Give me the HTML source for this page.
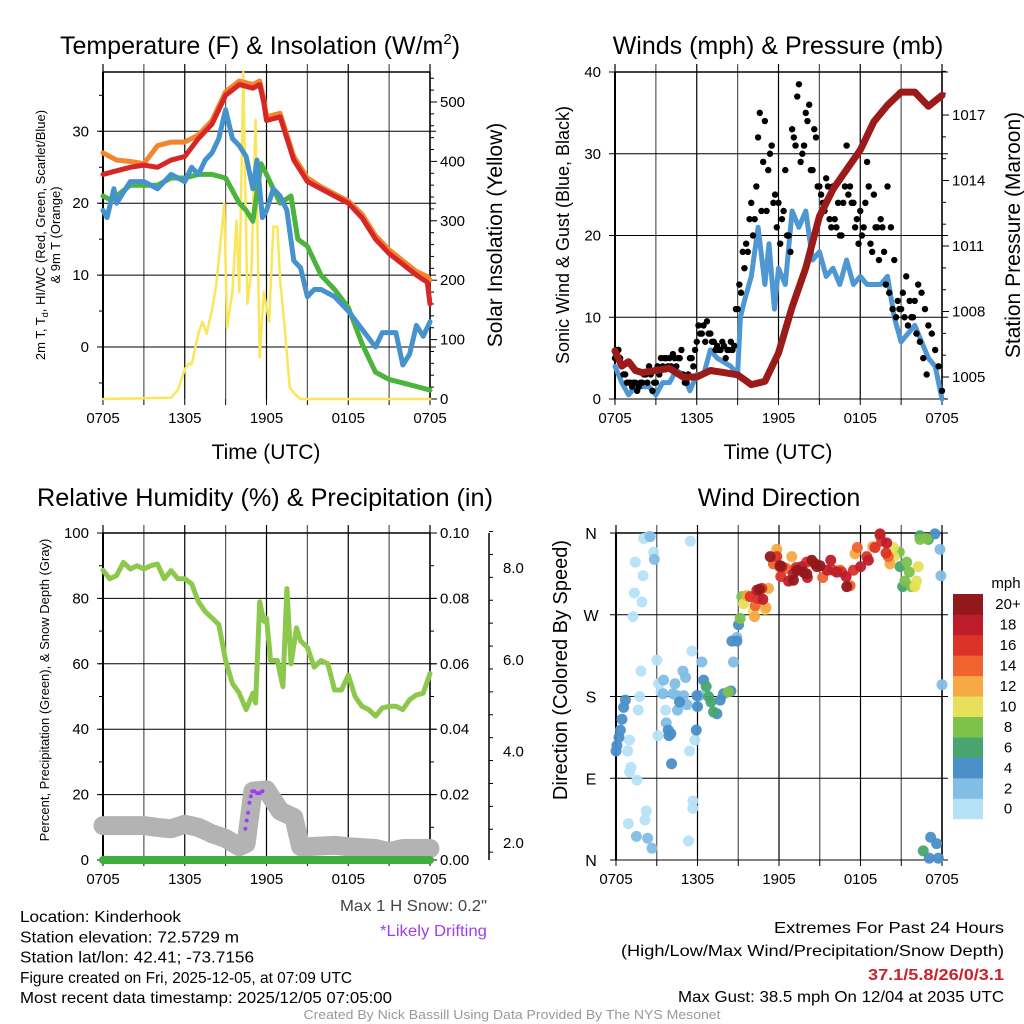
<!DOCTYPE html>
<html><head><meta charset="utf-8"><style>
body{margin:0;background:#fff}
svg{display:block;font-family:"Liberation Sans",sans-serif}
</style></head><body>
<svg id="s" width="1024" height="1024" viewBox="0 0 1024 1024"></svg>
<script>
// ---------- DATA ----------
const tHours=[0,1,2,3,4,5,6,7,8,9,10,11,11.5,11.8,12,13,14,15,16,17,18,19,20,21,22,23,23.8,24];
const temp2m=[24,24.5,25,25.3,25,26,26.5,29,31,35,36.5,36,36.5,34,31.5,32,26,23,22,21,20,18,15,13,11.5,10,9,6];
const temp9m=[27,26,25.8,25.5,28,28.5,28.5,29.5,31.5,35.5,37,36.5,37,34.5,32,32.5,26.5,23.5,22.3,21.3,20.3,18.5,15.5,13.5,12,10.5,9.8,9.3];
const tdHours=[0,0.5,1,2,3,4,5,6,7,8,9,10,10.5,11,11.6,12,12.5,13,13.8,14.3,15,16,17,18,19,20,21,22,23,24];
const dewpt=[21,20.5,21,22.5,22.5,22.5,23.5,23.5,24,24,23.5,20,19,17.5,25.5,24,22,20,21,15,14,10,8,5.5,0.5,-3.5,-4.5,-5,-5.5,-6];
const wcHours=[0,0.3,0.8,1,2,3,4,5,6,6.5,7,7.5,8,8.5,9,9.5,10,10.5,11,11.3,11.7,12,12.5,13,13.5,14,14.5,15,15.5,16,17,18,19,20,20.5,21,21.5,22,22.5,23,23.5,24];
const windChill=[19,18,22,20,23,23,22,24,23,25,24,26,27,29,33,29,28,26.5,22,26,18,19,22,21,19,12,11,7,8,8,7,5,2.5,0,2,2,2,-2.5,-1,3,1.5,3.5];
const solHours=[0,5,5.5,6,6.3,6.5,7,7.3,7.6,8,8.3,8.7,8.9,9.1,9.5,9.8,10,10.3,10.6,10.9,11.2,11.5,11.8,12.2,12.5,12.8,13,13.3,13.7,14,14.5,24];
const solar=[0,2,15,50,60,58,110,130,110,150,190,280,330,120,180,300,180,550,160,220,470,70,180,130,290,290,200,130,20,10,0,0];

const windHours=[0,0.5,1,1.5,2,2.5,3,3.5,4,4.5,5,5.5,6,6.5,7,7.5,8,8.5,9,9.2,9.5,10,10.5,11,11.3,11.7,12,12.5,13,13.5,14,14.5,15,15.5,16,16.5,17,17.5,18,18.5,19,19.5,20,20.5,21,21.5,22,22.5,23,23.5,24];
const sonicWind=[4,2,0.5,1.5,1.5,1.5,0.5,2,2,3.5,3,1,3,3,6,5,4.5,4,3,10,12,15,21,14,19,11,16,14,23,21,23,17,18,15,16,14,17,14,15,14,14,14,15,10,7,8,9,7,5,4,0];
const gust=[5,6,4,3, 2,1.5,2,1.5, 2,3,4,1, 2,3,4,5, 5,5.5,4,5, 3,2,5,4, 7,8,9,9.5, 8,7,6.5,6, 6.5,6,7,6.5, 11,13,16,18, 24,22,32,23, 34,28,31,25, 24,22,28,20, 33,31,38.5,30, 35,36,28,32, 26,24,27,22, 26,21,20,24, 31,26,24,22, 23,21,29,19, 25,21,22,18, 26,21,17,12, 11,10,9,10, 12,14,13,11, 9,8,6,4, 1];
const gust2=[6,5,3,2, 2,2,1,2, 3,2,3,2, 4,5,5,4, 4,5,5,6, 2,3,5,6, 9,8,7,8, 7,6,6,7, 5,6,6,11, 14,18,19,22, 20,26,35,29, 23,30,24,21, 19,23,20,18, 32,37,29,31, 34,28,33,26, 25,23,26,21, 22,24,20,26, 25,24,21,19, 20,24,26,18, 21,17,21,14, 13,11,10,11, 13,15,12,10, 8,7,5,3];
const presHours=[0,0.5,1,1.5,2,3,4,5,6,7,8,9,10,11,12,13,14,15,16,17,18,19,20,21,22,23,24];
const pressure=[1006.2,1005.5,1005.7,1005.3,1005.2,1005.3,1005.4,1005.0,1005.0,1005.3,1005.2,1005.1,1004.65,1004.8,1006.1,1008.2,1010.0,1012.35,1013.6,1014.5,1015.4,1016.7,1017.45,1018.05,1018.05,1017.4,1017.9];

const rhHours=[0,0.5,1,1.5,2,2.5,3,3.5,4,4.5,5,5.5,6,6.5,7,7.5,8,8.5,9,9.5,10,10.5,11,11.2,11.5,11.8,12,12.3,12.8,13.2,13.5,13.8,14.2,14.5,15,15.5,16,16.5,17,17.5,18,18.5,19,19.5,20,20.5,21,21.5,22,22.5,23,23.5,24];
const rh=[88.6,86,87,91,89,90,89,90,90.5,86,88.5,86,86,84.5,79,76,74,72,61,54,51,46,51,48,79,73,74,61,61,53,83,60,71,67,65,59,61,60,52,52,56.5,50,47,46,44,46.5,47,47,46,49,50.5,51,57];
const snowHours=[0,3,4,5,6,7,8,9,10,10.5,11,12,13,14,14.5,15,17,18,20,21,22,24];
const snowDepth=[2.38,2.38,2.34,2.31,2.41,2.34,2.2,2.1,1.92,1.99,3.13,3.16,2.7,2.56,1.92,1.92,1.95,1.92,1.88,1.81,1.88,1.88];
const driftHours=[10.45,10.55,10.65,10.75,10.85,10.95,11.1,11.3,11.5,11.7];
const driftDepth=[2.31,2.49,2.66,2.88,3.02,3.13,3.13,3.09,3.09,3.13];
const precipHours=[0,24];
const precip=[0,0];

const dirHours=[2.03,2.4,2.77,1.42,1.99,1.35,1.91,1.25,3.01,1.84,1.74,1.64,3.09,1.0,0.86,1.1,1.0,1.54,2.23,2.13,0.91,5.34,5.66,5.66,5.42,5.81,5.59,5.47,3.65,3.31,3.14,
 2.52,2.82,3.5,4.34,4.93,5.12,3.46,4.19,4.49,4.98,5.22,4.53,3.7,6.32,8.9,8.65,1.5,2.33,2.65,23.85,23.92,24.0,6.15,
 0,0.07,0.22,0.32,0.44,0.56,0.69,4.04,3.9,3.85,4.09,4.68,5.96,5.91,6.0,6.45,7.43,7.67,7.92,8.46,8.53,8.9,9.02,23.48,23.16,23.6,23.06,23.73,
 6.64,6.81,6.99,7.18,22.38,22.99,20.91,21.1,22.62,
 8.28,9.14,9.26,21.4,21.59,21.27,22.38,22.87,20.86,21.76,
 9.39,10.12,20.42,20.47,22.01,22.25,22.13,10.98,
 9.63,10.2,11.05,11.23,11.84,12.94,17.6,18.9,20.17,10.61,
 10.25,11.59,12.08,12.52,15.22,16.5,17.23,17.77,19.44,20.05,
 9.88,10.74,10.42,11.84,12.13,13.26,14.04,16.0,16.62,17.48,18.46,19.56,19.07,19.88,
 10.37,10.81,12.21,12.7,13.06,13.68,14.09,14.78,15.56,15.81,16.25,16.94,18.01,18.58,19.44,19.93,
 10.56,11.35,12.08,13.31,13.8,14.41,14.66,16.99,13.06,14.04,15.02];
const dirDeg=[354,356,339,328,313,294,284,268,220,208,180,165,137,132,120,102,97,88,54,44,40,21,65,57,120,132,230,351,165,185,194,
 356,331,198,194,208,201,183,183,181,181,171,165,151,218,245,218,26,24,13,342,313,193,181,
 120,126,135,143,155,168,176,139,137,143,106,174,181,143,169,198,161,176,183,186,241,241,259,359,25,18,2,2,
 191,180,174,163,357,353,323,301,10,
 185,266,290,328,317,307,353,354,339,301,
 282,274,344,334,301,323,307,276,
 291,268,278,299,342,334,337,345,326,291,
 280,326,322,321,311,319,302,344,357,334,
 290,299,288,334,312,322,328,319,317,319,334,351,344,338,
 297,287,323,307,315,323,311,323,319,330,317,312,323,330,359,349,
 298,334,324,319,317,330,326,301,308,315,324];
const dirSpeed=[1,1,1,1,1,1,1,1,1,1,1,1,1,1,1,1,1,1,1,1,1,1,1,1,1,1,1,1,1,1,1,
 3,3,3,3,3,3,3,3,3,3,3,3,3,3,3,3,3,3,3,3,3,3,3,
 5,5,5,5,5,5,5,5,5,5,5,5,5,5,5,5,5,5,5,5,5,5,5,5,5,5,5,5,
 7,7,7,7,7,7,7,7,7,
 9,9,9,9,9,9,9,9,9,9,
 11,11,11,11,11,11,11,11,
 13,13,13,13,13,13,13,13,13,13,
 15,15,15,15,15,15,15,15,15,15,
 17,17,17,17,17,17,17,17,17,17,17,17,17,17,
 19,19,19,19,19,19,19,19,19,19,19,19,19,19,19,19,
 22,22,22,22,22,22,22,22,22,22,22];
const speedColors=["#b6e1f7","#82bde6","#4a8fc8","#48a56f","#7cc24b","#e7e05b","#f6a944","#ef632e","#dc3328","#bd1d2a","#92181c"];
const speedLabels=["0","2","4","6","8","10","12","14","16","18","20+"];
const timeLabels=["0705","1305","1905","0105","0705"];

// ---------- DRAW ----------
const S=document.getElementById('s');
const NS='http://www.w3.org/2000/svg';
function el(tag,attrs,parent,txt){const e=document.createElementNS(NS,tag);for(const k in attrs)e.setAttribute(k,attrs[k]);if(txt!==undefined)e.textContent=txt;(parent||S).appendChild(e);return e;}
function group(name){const g=el('g',{},S);return g;}
function line(g,x1,y1,x2,y2,st,w){return el('line',{x1,y1,x2,y2,stroke:st,'stroke-width':w},g);}
function text(g,x,y,t,size,anchor,fill,extra){const e=el('text',Object.assign({x,y,'font-size':size,'text-anchor':anchor||'middle',fill:fill||'#000'},extra||{}),g,t);return e;}
function fit(len){return {textLength:len,lengthAdjust:'spacingAndGlyphs'};}
function path(g,xs,ys,fx,fy,color,w,name){let d='';for(let i=0;i<xs.length;i++)d+=(i?'L':'M')+fx(xs[i]).toFixed(1)+' '+fy(ys[i]).toFixed(1);const p=el('path',{d,fill:'none',stroke:color,'stroke-width':w,'stroke-linejoin':'round','stroke-linecap':'round'},g);return p;}

function frame(g,x0,x1,yT,yB,xs,hTicks){
  for(let h=0;h<=24;h+=3){const x=xs(h);line(g,x,yT-8,x,yB,(h%6==0)?'#000':'#555',1.2);line(g,x,yB,x,yB+6,'#000',1);}
  for(const v of hTicks){line(g,x0-6,v,x1+6,v,'#000',1);}
  line(g,x0,yT,x0,yB,'#000',2);line(g,x1,yT,x1,yB,'#000',1.5);line(g,x0,yT,x1,yT,'#000',1.5);
  timeLabels.forEach((t,i)=>text(g,xs(i*6),yB+24,t,15));
}

// ===== Panel 1: Temperature =====
(function(){
  const g=group('temperature-panel');
  const x0=103,x1=430,yT=72,yB=399;
  const xs=h=>x0+h*(x1-x0)/24, yl=v=>347-v*7.19, yr=s=>399-s*0.594;
  frame(g,x0,x1,yT,yB,xs,[0,10,20,30].map(yl));
  for(let v=-5;v<=35;v+=5)line(g,x0-4,yl(v),x0,yl(v),'#000',1);
  [0,10,20,30].forEach(v=>text(g,x0-14,yl(v)+5,String(v),15,'end'));
  for(let s=0;s<=540;s+=20)line(g,x1,yr(s),x1+(s%100==0?7:4),yr(s),'#000',1);
  [0,100,200,300,400,500].forEach(s=>text(g,x1+10,yr(s)+5,String(s),15,'start'));
  path(g,solHours,solar,xs,yr,'#fbe55a',2.5,'solar-insolation-line');
  path(g,tdHours,dewpt,xs,yl,'#4cb43c',5,'dewpoint-line');
  path(g,tHours,temp9m,xs,yl,'#f4852c',5,'temp-9m-line');
  path(g,tHours,temp2m,xs,yl,'#d62626',5,'temp-2m-line');
  path(g,wcHours,windChill,xs,yl,'#4592cd',5,'wind-chill-line');
  const t=text(g,260,54,'Temperature (F) & Insolation (W/m',25);
  el('tspan',{dy:-10,'font-size':15},t,'2');el('tspan',{dy:10},t,')');
  text(g,266,459,'Time (UTC)',21);
  text(g,0,0,'Solar Insolation (Yellow)',21,'middle','#000',{transform:'translate(502,235) rotate(-90)'});
  text(g,0,0,'',13,'middle','#000',{transform:'translate(45,235) rotate(-90)'}).innerHTML='2m T, T<tspan font-size="9" dy="3">d</tspan><tspan dy="-3">, HI/WC (Red, Green, Scarlet/Blue)</tspan>';
  text(g,0,0,'& 9m T (Orange)',13,'middle','#000',{transform:'translate(60,235) rotate(-90)'});
})();

// ===== Panel 2: Winds =====
(function(){
  const g=group('winds-panel');
  const x0=615,x1=942,yT=72,yB=399;
  const xs=h=>x0+h*(x1-x0)/24, yl=w=>399-w*8.175, yr=p=>377-(p-1005)*21.83;
  frame(g,x0,x1,yT,yB,xs,[0,10,20,30,40].map(yl));
  [0,10,20,30,40].forEach(v=>text(g,x0-14,yl(v)+5,String(v),15,'end'));
  for(let p=1004;p<=1019;p++)line(g,x1,yr(p),x1+((p-1005)%3==0?7:4),yr(p),'#000',1);
  [1005,1008,1011,1014,1017].forEach(p=>text(g,x1+10,yr(p)+5,String(p),15,'start'));
  path(g,windHours,sonicWind,xs,yl,'#4e97d2',5,'sonic-wind-line');
  gust.forEach((v,i)=>{const c=el('circle',{cx:xs(i*0.25),cy:yl(v),r:3.2,fill:'#000'},g);});
  gust2.forEach((v,i)=>{const c=el('circle',{cx:xs(i*0.25+0.125),cy:yl(v),r:3.2,fill:'#000'},g);});
  path(g,presHours,pressure,xs,yr,'#9b1b1b',7,'pressure-line');
  text(g,778,54,'Winds (mph) & Pressure (mb)',25);
  text(g,778,459,'Time (UTC)',21);
  text(g,0,0,'Sonic Wind & Gust (Blue, Black)',18,'middle','#000',{transform:'translate(569,235) rotate(-90)'});
  text(g,0,0,'Station Pressure (Maroon)',21,'middle','#000',{transform:'translate(1020,235) rotate(-90)'});
})();

// ===== Panel 3: RH =====
(function(){
  const g=group('humidity-panel');
  const x0=103,x1=430,yT=533,yB=860;
  const xs=h=>x0+h*(x1-x0)/24, yl=v=>860-v*3.27, yp=p=>860-p*3270, ysn=s=>843-(s-2)*45.8;
  frame(g,x0,x1,yT,yB,xs,[0,20,40,60,80,100].map(yl));
  for(let v=0;v<=100;v+=10)line(g,x0-4,yl(v),x0,yl(v),'#000',1);
  [0,20,40,60,80,100].forEach(v=>text(g,x0-14,yl(v)+5,String(v),15,'end'));
  for(let p=0;p<=0.1001;p+=0.01)line(g,x1,yp(p),x1+((Math.round(p*100))%2==0?7:4),yp(p),'#000',1);
  [0,0.02,0.04,0.06,0.08,0.10].forEach(p=>text(g,x1+10,yp(p)+5,p.toFixed(2),15,'start'));
  line(g,489,533,489,860,'#000',1.5);
  for(let s=1.8;s<=8.8;s+=0.5)line(g,489,ysn(s),489+(Math.abs(s-Math.round(s))<0.01&&Math.round(s)%2==0?7:4),ysn(s),'#000',1);
  [2,4,6,8].forEach(s=>text(g,503,ysn(s)+5,s.toFixed(1),15,'start'));
  path(g,snowHours,snowDepth,xs,ysn,'#b3b3b3',19,'snow-depth-line');
  path(g,precipHours,precip,xs,yp,'#3fae3f',8,'precip-line');
  path(g,rhHours,rh,xs,yl,'#8cc84b',5,'rh-line');
  driftHours.forEach((h,i)=>{const c=el('circle',{cx:xs(h),cy:ysn(driftDepth[i]),r:2,fill:'#a03df0'},g);});
  text(g,265,506,'Relative Humidity (%) & Precipitation (in)',25,'middle','#000',fit(456));
  text(g,0,0,'Percent, Precipitation (Green), & Snow Depth (Gray)',13,'middle','#000',{transform:'translate(49,690) rotate(-90)'});
  text(g,487,911,'Max 1 H Snow: 0.2"',16,'end','#444',fit(147));
  text(g,487,936,'*Likely Drifting',16,'end','#a03df0',fit(107));
})();

// ===== Panel 4: Wind direction =====
(function(){
  const g=group('wind-direction-panel');
  const x0=616,x1=942,yT=533,yB=860;
  const xs=h=>x0+h*(x1-x0)/24, yd=d=>860-d*0.9083;
  frame(g,x0,x1,yT,yB,xs,[0,90,180,270,360].map(yd));
  ['N','E','S','W','N'].forEach((l,i)=>text(g,591,yd(i*90)+6,l,16));
  dirHours.forEach((h,i)=>{const ci=Math.min(10,Math.floor(dirSpeed[i]/2));const c=el('circle',{cx:xs(h),cy:yd(dirDeg[i]),r:5.5,fill:speedColors[ci],'fill-opacity':0.95},g);});
  text(g,779,506,'Wind Direction',25);
  text(g,0,0,'Direction (Colored By Speed)',20,'middle','#000',{transform:'translate(567,670) rotate(-90)'});
  const lg=group('speed-colorbar');
  const by=594,bh=20.45;
  for(let i=0;i<11;i++){const y=by+(10-i)*bh;el('rect',{x:953,y:y,width:30,height:bh+0.3,fill:speedColors[i]},lg);text(lg,1008,y+bh/2+5,speedLabels[i],15);}
  text(lg,1006,588,'mph',15);
})();

// ===== Footer text =====
(function(){
  const g=group('footer-info');
  const L=['Location: Kinderhook','Station elevation: 72.5729 m','Station lat/lon: 42.41; -73.7156','Figure created on Fri, 2025-12-05, at 07:09 UTC','Most recent data timestamp: 2025/12/05 07:05:00'];
  const W=[161,219,234,332,372];
  L.forEach((t,i)=>text(g,20,922+i*20.3,t,16,'start','#000',fit(W[i])));
  text(g,1004,933,'Extremes For Past 24 Hours',16,'end','#000',fit(230));
  text(g,1004,956,'(High/Low/Max Wind/Precipitation/Snow Depth)',16,'end','#000',fit(383));
  text(g,1004,980,'37.1/5.8/26/0/3.1',16,'end','#cc2229',Object.assign({'font-weight':'bold'},fit(136)));
  text(g,1004,1002,'Max Gust: 38.5 mph On 12/04 at 2035 UTC',16,'end','#000',fit(326));
  text(g,512,1019,'Created By Nick Bassill Using Data Provided By The NYS Mesonet',13,'middle','#999',fit(417));
})();
</script>
</body></html>
